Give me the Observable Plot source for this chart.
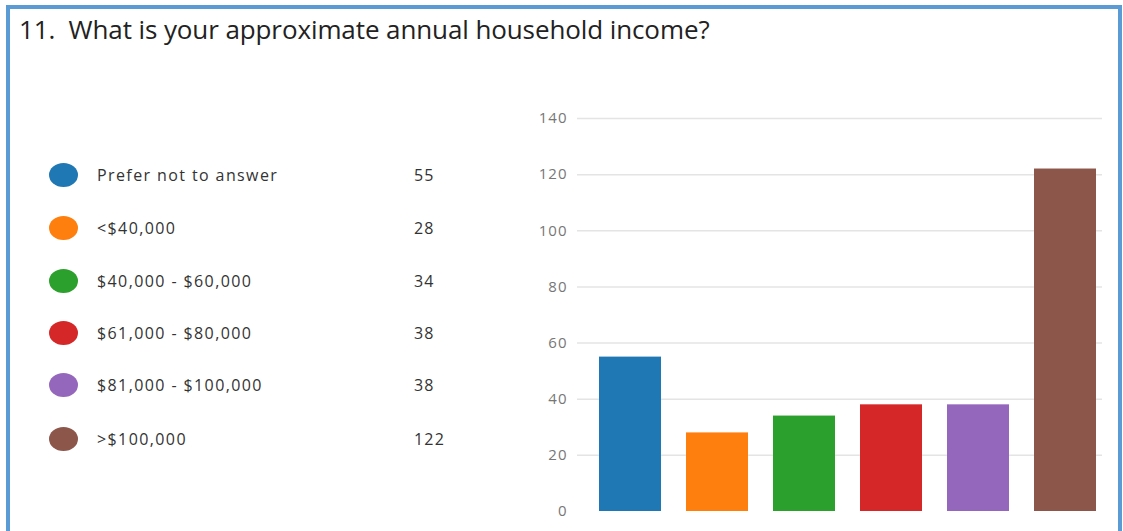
<!DOCTYPE html>
<html>
<head>
<meta charset="utf-8">
<script src="https://cdn.jsdelivr.net/npm/d3@7"></script>
<script src="https://cdn.jsdelivr.net/npm/@observablehq/plot@0.6"></script>
<style>
  html, body { margin: 0; padding: 0; background: #fff; }
  #wrap { position: relative; width: 1123px; height: 531px; overflow: hidden; background: #fff; font-family: "Open Sans", "Noto Sans", sans-serif; }
  #frame { position: absolute; left: 6px; top: 5px; width: 1116px; height: 560px; border: 4px solid #5b9bd5; box-sizing: border-box; pointer-events: none; }
  #title { position: absolute; left: 19px; top: 11px; font-size: 26px; line-height: 36px; color: #222; white-space: nowrap; letter-spacing: -0.1px; }
  .row { position: absolute; left: 0; height: 30px; width: 500px; }
  .dot { position: absolute; left: 49px; top: 3px; width: 29px; height: 24px; border-radius: 50%; }
  .lab { position: absolute; left: 97px; top: 4px; font-size: 16px; line-height: 22px; color: #333; white-space: nowrap; letter-spacing: 1.4px; }
  .cnt { position: absolute; left: 414px; top: 4px; font-size: 16px; line-height: 22px; color: #333; letter-spacing: 1.2px; }
  #chart { position: absolute; left: 0; top: 95px; }
</style>
</head>
<body>
<div id="wrap">
  <div id="title">11.&nbsp; What is your approximate annual household income?</div>
  <div id="legend"></div>
  <div id="chart"></div>
  <div id="frame"></div>
</div>
<script>
const categories = ["Prefer not to answer", "<$40,000", "$40,000 - $60,000", "$61,000 - $80,000", "$81,000 - $100,000", ">$100,000"];
const counts = [55, 28, 34, 38, 38, 122];
const colors = ["#1f77b4", "#ff7f0e", "#2ca02c", "#d62728", "#9467bd", "#8c564b"];
const yTicks = [0, 20, 40, 60, 80, 100, 120, 140];

const data = categories.map((c, i) => ({category: c, count: counts[i], color: colors[i]}));

// Legend (HTML)
const legend = document.getElementById("legend");
const rowTops = [160, 213, 266, 318, 370, 424];
data.forEach((d, i) => {
  const row = document.createElement("div");
  row.className = "row";
  row.style.top = rowTops[i] + "px";
  const dot = document.createElement("div");
  dot.className = "dot";
  dot.style.background = d.color;
  const lab = document.createElement("div");
  lab.className = "lab";
  lab.textContent = d.category;
  const cnt = document.createElement("div");
  cnt.className = "cnt";
  cnt.textContent = d.count;
  row.append(dot, lab, cnt);
  legend.append(row);
});

const chart = Plot.plot({
  width: 1123,
  height: 436,
  marginLeft: 585,
  marginRight: 13,
  marginTop: 23,
  marginBottom: 20,
  style: {fontFamily: "'Open Sans', 'Noto Sans', sans-serif", fontSize: "15px", color: "#777", background: "transparent", letterSpacing: "1px"},
  x: {domain: categories, paddingInner: 0.29, paddingOuter: 0.145, axis: null},
  y: {domain: [0, 140], ticks: yTicks, label: null},
  color: {domain: categories, range: colors},
  marks: [
    Plot.ruleY(yTicks.filter(t => t > 0), {stroke: "#e4e4e4", strokeWidth: 1.5, insetLeft: -8, insetRight: 8}),
    Plot.barY(data, {x: "category", y: "count", fill: "category"}),
    Plot.axisY({ticks: yTicks, tickSize: 0, tickPadding: 18, label: null, fill: "#777"})
  ]
});
document.getElementById("chart").append(chart);
</script>
</body>
</html>
